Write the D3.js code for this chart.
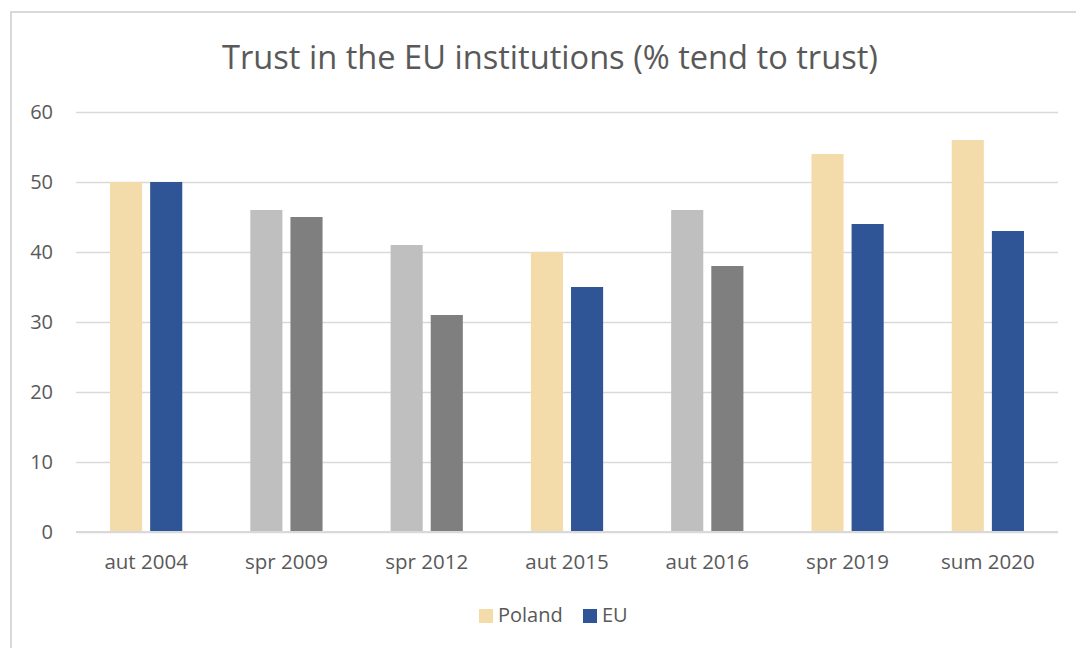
<!DOCTYPE html>
<html>
<head>
<meta charset="utf-8">
<script src="https://cdn.jsdelivr.net/npm/d3@7"></script>
<style>
  html, body { margin: 0; padding: 0; background: #ffffff; }
  svg { display: block; }
  text { font-family: "Open Sans", "Noto Sans", sans-serif; fill: #595959; }
</style>
</head>
<body>
<svg id="chart" width="1076" height="648"></svg>
<script>
// ---- data ----
const categories = ["aut 2004", "spr 2009", "spr 2012", "aut 2015", "aut 2016", "spr 2019", "sum 2020"];
const seriesNames = ["Poland", "EU"];
const polandValues = [50, 46, 41, 40, 46, 54, 56];
const euValues = [50, 45, 31, 35, 38, 44, 43];
const yTicks = [0, 10, 20, 30, 40, 50, 60];
const titleText = "Trust in the EU institutions (% tend to trust)";
// categories whose bars are shown greyed out in the original
const greyedCategories = ["spr 2009", "spr 2012", "aut 2016"];

// ---- styles ----
const colors = {
  Poland: "#F4DCAA",
  EU: "#2F5597",
  PolandGrey: "#BFBFBF",
  EUGrey: "#7F7F7F"
};

const W = 1076, H = 648;
const svg = d3.select("#chart");

// chart frame
svg.append("rect")
  .attr("x", 11).attr("y", 12)
  .attr("width", W + 10).attr("height", H + 10)
  .attr("fill", "#ffffff")
  .attr("stroke", "#D9D9D9").attr("stroke-width", 2);

const plot = { left: 76, right: 1058, top: 112, bottom: 532 };

const y = d3.scaleLinear().domain([0, 60]).range([plot.bottom, plot.top]);
const x0 = d3.scaleBand().domain(categories).range([plot.left, plot.right]).paddingInner(0).paddingOuter(0);
const groupW = x0.bandwidth() * 0.515;
const x1 = d3.scaleBand().domain(seriesNames)
  .range([x0.bandwidth() / 2 - groupW / 2, x0.bandwidth() / 2 + groupW / 2])
  .paddingInner(0.2).paddingOuter(0);

// gridlines
const yAxis = d3.axisLeft(y).tickValues(yTicks).tickSize(-(plot.right - plot.left)).tickPadding(23);
const gy = svg.append("g").attr("transform", `translate(${plot.left},0)`).call(yAxis);
gy.select(".domain").remove();
gy.selectAll(".tick line").attr("stroke", "#D9D9D9").attr("stroke-width", 1.5);
gy.selectAll(".tick text")
  .attr("font-size", 20).attr("fill", "#595959")
  .attr("font-family", "'Open Sans', sans-serif")
  .attr("dy", "0.34em");

// bars
const rows = categories.map((c, i) => ({ cat: c, vals: [
  { s: "Poland", v: polandValues[i] },
  { s: "EU", v: euValues[i] }
]}));

const groups = svg.append("g").selectAll("g").data(rows).join("g")
  .attr("transform", d => `translate(${x0(d.cat)},0)`);

groups.selectAll("rect").data(d => d.vals.map(o => ({ ...o, cat: d.cat }))).join("rect")
  .attr("x", d => x1(d.s))
  .attr("width", x1.bandwidth())
  .attr("y", d => y(d.v))
  .attr("height", d => y(0) - y(d.v))
  .attr("fill", d => greyedCategories.includes(d.cat) ? colors[d.s + "Grey"] : colors[d.s]);

// baseline
svg.append("line")
  .attr("x1", plot.left).attr("x2", plot.right)
  .attr("y1", y(0)).attr("y2", y(0))
  .attr("stroke", "#D9D9D9").attr("stroke-width", 2);

// x axis labels
const xAxis = d3.axisBottom(x0).tickSize(0).tickPadding(22);
const gx = svg.append("g").attr("transform", `translate(0,${plot.bottom})`).call(xAxis);
gx.select(".domain").remove();
gx.selectAll(".tick text")
  .attr("font-size", 20.5).attr("fill", "#595959")
  .attr("font-family", "'Open Sans', sans-serif");

// title
const title = svg.append("text")
  .attr("x", 550).attr("y", 69)
  .attr("text-anchor", "middle")
  .attr("font-size", 32)
  .attr("fill", "#595959")
  .text(titleText);
const tw = title.node().getComputedTextLength();
title.attr("font-size", 32 * 656 / tw);

// legend
const legendItems = [
  { name: "Poland", x: 479 },
  { name: "EU", x: 583 }
];
const lg = svg.append("g");
legendItems.forEach(it => {
  lg.append("rect").attr("x", it.x).attr("y", 609).attr("width", 14).attr("height", 14)
    .attr("fill", colors[it.name]);
  lg.append("text").attr("x", it.x + 19).attr("y", 622).attr("font-size", 20)
    .attr("fill", "#595959").text(it.name);
});
</script>
</body>
</html>
